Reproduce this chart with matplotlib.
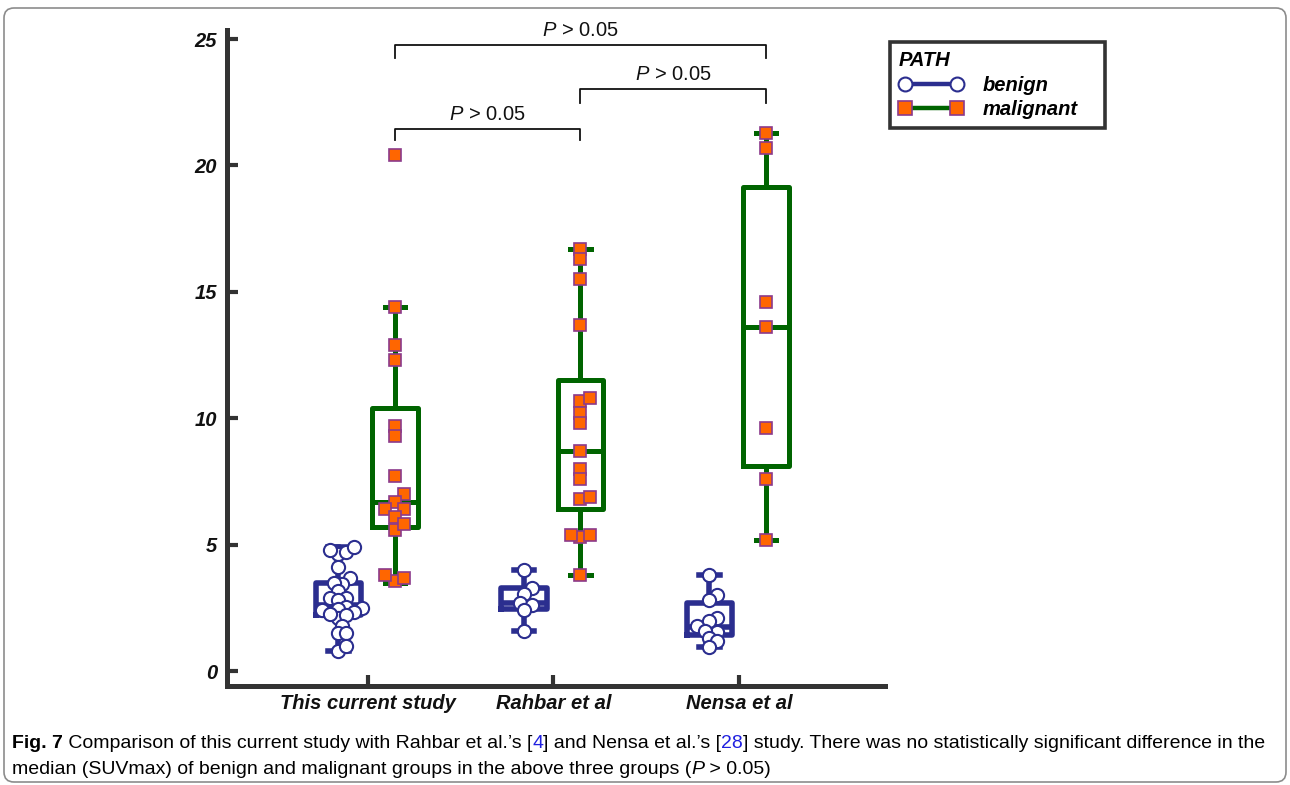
import numpy as np
import matplotlib
matplotlib.use('Agg')
from matplotlib import pyplot as plt
from matplotlib.lines import Line2D
from matplotlib.patches import FancyBboxPatch, Rectangle
from matplotlib.transforms import IdentityTransform

# SUVmax, benign vs malignant, three studies

groups = ['This current study', 'Rahbar et al', 'Nensa et al']

benign_study = [4.65, 4.7, 4.8, 4.9, 4.1, 3.7, 3.45, 3.5, 3.15, 2.9, 2.9, 2.8, 2.5,
                2.55, 2.45, 2.4, 2.35, 2.1, 2.2, 2.25, 1.8, 1.5, 1.5, 0.8, 1.0]
benign_rahbar = [4.0, 3.3, 3.05, 2.7, 2.6, 2.4, 1.6]
benign_nensa = [3.8, 3.0, 2.8, 2.1, 2.0, 1.8, 1.55, 1.6, 1.3, 1.2, 0.95]

malig_study = [20.4, 14.4, 12.9, 12.3, 9.7, 9.3, 7.7, 7.0, 6.7, 6.4, 6.4, 6.1,
               5.6, 5.8, 3.55, 3.7, 3.8]
malig_rahbar = [16.7, 16.3, 15.5, 13.7, 10.7, 10.8, 10.2, 9.8, 8.7, 8.0, 7.6,
                6.8, 6.9, 5.3, 5.4, 5.4, 3.8]
malig_nensa = [21.3, 20.7, 14.6, 13.6, 9.6, 7.6, 5.2]

# box summaries as drawn (q1, median, q3, whisker low, whisker high)
benign_q1 = [2.22, 2.44, 1.42]
benign_med = [2.6, 2.7, 1.75]
benign_q3 = [3.49, 3.3, 2.68]
benign_lo = [0.8, 1.6, 0.95]
benign_hi = [4.9, 4.0, 3.8]

malig_q1 = [5.68, 6.43, 8.1]
malig_med = [6.7, 8.71, 13.6]
malig_q3 = [10.39, 11.51, 19.15]
malig_lo = [3.5, 3.8, 5.2]
malig_hi = [14.4, 16.68, 21.3]

benign = [benign_study, benign_rahbar, benign_nensa]
malig = [malig_study, malig_rahbar, malig_nensa]

NAVY = '#2b2e8f'
GREEN = '#006400'
ORANGE = '#ff6600'
PURPLE = '#8b3a8b'
AXC = '#333333'

plt.rcParams['font.family'] = ['Liberation Sans', 'DejaVu Sans']
plt.rcParams['mathtext.fontset'] = 'custom'
plt.rcParams['mathtext.rm'] = 'Liberation Sans'
plt.rcParams['mathtext.it'] = 'Liberation Sans:italic'

fig = plt.figure(figsize=(12.9, 7.85), dpi=100)
ax = fig.add_axes([227 / 1290, 1 - 686 / 785, (885 - 227) / 1290, (686 - 30) / 785])
ax.set_xlim(-0.76, 2.787)
ax.set_ylim(-0.59, 25.36)

pos = np.arange(len(groups))
pos_b = pos - 0.16
pos_m = pos + 0.145


def stats(q1, med, q3, lo, hi):
    return [dict(q1=a, med=b, q3=c, whislo=d, whishi=e, fliers=[])
            for a, b, c, d, e in zip(q1, med, q3, lo, hi)]


def draw_boxes(st, positions, color, lw):
    ax.bxp(st, positions=positions, widths=0.245, capwidths=0.11, showfliers=False,
           patch_artist=False, manage_ticks=False,
           boxprops=dict(color=color, linewidth=lw),
           whiskerprops=dict(color=color, linewidth=lw),
           capprops=dict(color=color, linewidth=lw),
           medianprops=dict(color=color, linewidth=lw), zorder=2)


draw_boxes(stats(benign_q1, benign_med, benign_q3, benign_lo, benign_hi), pos_b, NAVY, 4.0)
draw_boxes(stats(malig_q1, malig_med, malig_q3, malig_lo, malig_hi), pos_m, GREEN, 3.6)


def swarm(vals, center, diam):
    # simple beeswarm in pixel space (points may overlap a bit, like Prism)
    tr = ax.transData
    vals = np.asarray(vals, dtype=float)
    cx = tr.transform((center, 0))[0]
    placed = []
    xs = np.zeros(len(vals))
    for i in np.argsort(vals):
        py = tr.transform((center, vals[i]))[1]
        k = 0
        while True:
            offs = [0.0] if k == 0 else [k * diam / 2, -k * diam / 2]
            ok = None
            for o in offs:
                if all((cx + o - qx) ** 2 + (py - qy) ** 2 >= diam ** 2
                       for qx, qy in placed):
                    ok = o
                    break
            if ok is not None:
                break
            k += 1
        placed.append((cx + ok, py))
        xs[i] = tr.inverted().transform((cx + ok, py))[0]
    return xs


for i in range(len(groups)):
    xb = swarm(benign[i], pos_b[i], diam=8.0)
    ax.plot(xb, benign[i], 'o', ms=9.5, mfc='white', mec=NAVY, mew=1.5,
            ls='none', zorder=3)
    xm = swarm(malig[i], pos_m[i], diam=9.5)
    ax.plot(xm, malig[i], 's', ms=9, mfc=ORANGE, mec=PURPLE, mew=1.2,
            ls='none', zorder=3)

# significance brackets between malignant groups
brackets = [(0, 2, 24.76, 0.5), (1, 2, 23.02, 0.55), (0, 1, 21.44, 0.45)]
for a, b, yb, drop in brackets:
    xa, xb2 = pos_m[a], pos_m[b]
    ax.plot([xa, xa, xb2, xb2], [yb - drop, yb, yb, yb - drop], color='#111111',
            lw=1.3, clip_on=False, zorder=4)
    ax.text((xa + xb2) / 2, yb + 0.2, r'$P$ > 0.05', ha='center', va='bottom',
            fontsize=14.5, color='#111111')

# axes styling
for s in ['top', 'right']:
    ax.spines[s].set_visible(False)
for s in ['left', 'bottom']:
    ax.spines[s].set_linewidth(3.6)
    ax.spines[s].set_color(AXC)
ax.set_yticks([0, 5, 10, 15, 20, 25])
ax.set_xticks(pos)
ax.set_xticklabels(groups)
ax.tick_params(direction='in', length=8, width=3, color=AXC)
ax.tick_params(axis='y', pad=7)
ax.tick_params(axis='x', pad=6)
for lab in ax.get_xticklabels() + ax.get_yticklabels():
    lab.set_fontsize(14.5)
    lab.set_fontweight('bold')
    lab.set_fontstyle('italic')
    lab.set_color('#111111')

# legend (frame drawn separately to get the wide box)
handles = [
    Line2D([], [], color=NAVY, lw=3.2, marker='o', ms=10, mfc='white', mec=NAVY, mew=1.5),
    Line2D([], [], color=GREEN, lw=3.2, marker='s', ms=10, mfc=ORANGE, mec=PURPLE, mew=1.2),
]
leg = ax.legend(handles, ['benign', 'malignant'], title='PATH', numpoints=2,
                loc='upper left', bbox_to_anchor=(893 / 1290, 1 - 45 / 785),
                bbox_transform=fig.transFigure, borderaxespad=0,
                prop=dict(size=14.5, weight='bold', style='italic'),
                title_fontproperties=dict(size=14.5, weight='bold', style='italic'),
                alignment='left', frameon=False,
                handlelength=3.2, handletextpad=0.95, labelspacing=0.28,
                borderpad=0.3)
fig.patches.append(Rectangle((890, 785 - 128), 215, 86, transform=IdentityTransform(),
                             fill=False, ec=AXC, lw=2.6))

# caption
CAP = 14.0


def caption_line(parts, x, y):
    prev = fig.text(x, y, parts[0][0], va='bottom', ha='left', fontsize=CAP, **parts[0][1])
    for txt, kw in parts[1:]:
        prev = ax.annotate(txt, xy=(1, 0), xycoords=prev, va='bottom', ha='left',
                           fontsize=CAP, annotation_clip=False, **kw)


blue = dict(color='#2020e0')
caption_line([('Fig. 7', dict(weight='bold')),
              (' Comparison of this current study with Rahbar et al.\u2019s [', {}),
              ('4', blue),
              ('] and Nensa et al.\u2019s [', {}),
              ('28', blue),
              ('] study. There was no statistically significant difference in the', {})],
             12 / 1290, 1 - 752 / 785)
caption_line([('median (SUVmax) of benign and malignant groups in the above three groups (', {}),
              ('P', dict(style='italic')),
              (' > 0.05)', {})],
             12 / 1290, 1 - 778 / 785)

# outer rounded frame
frame = FancyBboxPatch((4, 3), 1282, 774, boxstyle='round,pad=0,rounding_size=10',
                       transform=IdentityTransform(), fill=False, ec='#8c8c8c', lw=1.2)
fig.patches.append(frame)

fig.savefig('out.png', dpi=100)
